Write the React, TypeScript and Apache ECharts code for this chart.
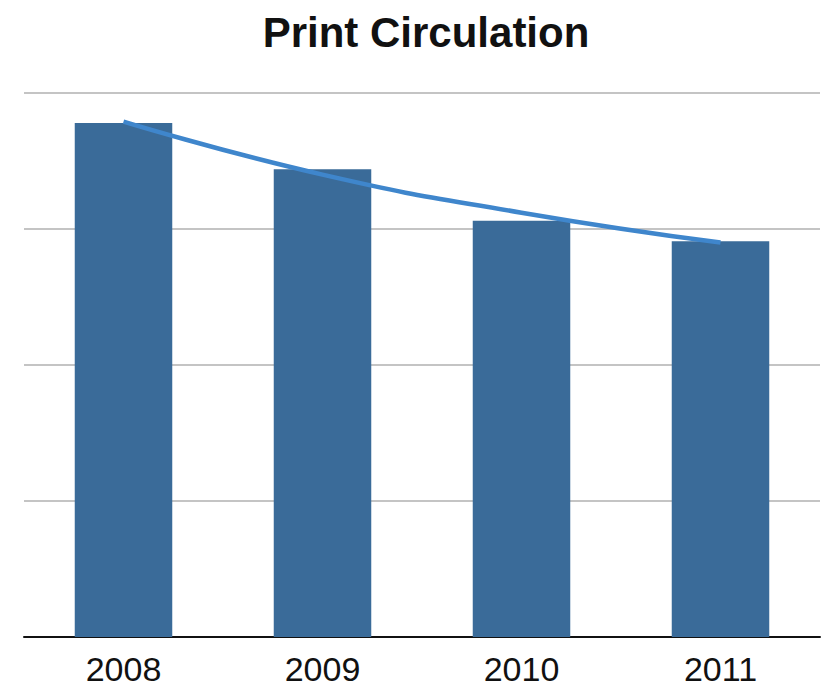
import React, { useEffect, useRef } from "react";
import * as echarts from "echarts";

const categories = ["2008", "2009", "2010", "2011"];
const circulation = [3.78, 3.44, 3.06, 2.91];
const trend = [3.79, 3.4, 3.12, 2.9];
const yTicks = [0, 1, 2, 3, 4];

export default function App() {
  const ref = useRef<HTMLDivElement>(null);
  useEffect(() => {
    if (!ref.current) return;
    const chart = echarts.init(ref.current, null, { renderer: "svg" });
    chart.setOption({
      animation: false,
      backgroundColor: "#ffffff",
      title: {
        text: "Print Circulation",
        left: 421,
        textAlign: "center",
        top: 6,
        textStyle: {
          fontFamily: "Liberation Sans",
          fontWeight: "bold",
          fontSize: 42,
          color: "#111111",
        },
      },
      grid: { left: 24, right: 13, top: 93, bottom: 689 - 637 },
      xAxis: {
        type: "category",
        data: categories,
        axisLine: { show: true, lineStyle: { color: "#111111", width: 2 } },
        axisTick: { show: false },
        axisLabel: {
          fontFamily: "Liberation Sans",
          fontSize: 34,
          color: "#111111",
          margin: 15,
        },
      },
      yAxis: {
        type: "value",
        min: yTicks[0],
        max: yTicks[yTicks.length - 1],
        interval: 1,
        axisLine: { show: false },
        axisTick: { show: false },
        axisLabel: { show: false },
        splitLine: { show: true, lineStyle: { color: "#c4c4c4", width: 2 } },
      },
      series: [
        {
          type: "bar",
          data: circulation,
          barWidth: "49%",
          itemStyle: { color: "#3a6b99" },
        },
        {
          type: "line",
          data: trend,
          smooth: true,
          symbol: "none",
          lineStyle: { color: "#3f86cc", width: 4.5 },
          z: 5,
        },
      ],
    });
    return () => chart.dispose();
  }, []);
  return (
    <div
      ref={ref}
      style={{ position: "absolute", left: 0, top: 0, width: 833, height: 689 }}
    />
  );
}
